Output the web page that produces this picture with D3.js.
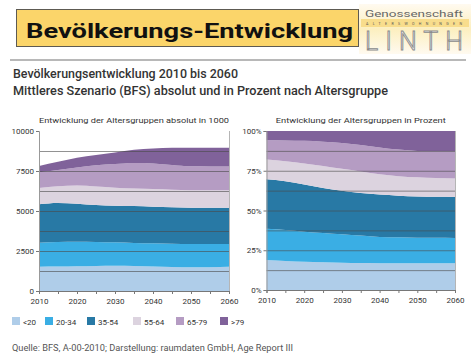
<!DOCTYPE html>
<html><head><meta charset="utf-8">
<script src="https://cdn.jsdelivr.net/npm/d3@7"></script>
<style>
body{margin:0;background:#fff}
svg{display:block}
text{font-family:Roboto,"DejaVu Sans",sans-serif}
</style></head>
<body>
<svg id="c" width="474" height="355"></svg>
<script>
// ---------- data ----------
const years = [2010,2015,2020,2025,2030,2035,2040,2045,2050,2055,2060];
const groups = ["<20","20-34","35-54","55-64","65-79",">79"];
const groupColors = ["#afcde9","#3aaee4","#2879a5","#dcd3df","#b59cc3","#80629a"];

// absolute, in 1000
const absU20  = [1520,1530,1550,1570,1580,1560,1530,1500,1480,1490,1520];
const abs2034 = [1500,1530,1530,1490,1460,1440,1450,1460,1460,1450,1420];
const abs3554 = [2400,2440,2380,2320,2290,2310,2290,2270,2270,2270,2270];
const abs5564 = [1010,1040,1130,1150,1130,1100,1100,1100,1090,1090,1090];
const abs6579 = [ 990,1030,1130,1330,1470,1590,1600,1550,1490,1480,1480];
const absO79  = [ 400, 510, 610, 640, 730, 830, 940,1070,1170,1180,1180];

// percent
const pctU20  = [18.9,18.3,17.8,17.5,17.2,17.0,16.9,16.8,16.8,16.8,16.8];
const pct2034 = [19.6,19.4,18.9,18.3,17.8,17.2,16.5,16.3,16.1,16.0,15.9];
const pct3554 = [31.1,30.7,29.6,28.3,27.4,26.8,26.6,26.2,25.9,25.8,25.8];
const pct5564 = [12.4,12.6,13.3,13.9,13.8,13.5,12.8,12.3,12.1,11.8,11.6];
const pct6579 = [12.2,13.1,14.2,15.3,16.3,16.7,16.9,16.7,16.6,16.9,17.1];
const pctO79  = [ 5.8, 5.9, 6.2, 6.7, 7.5, 8.8,10.3,11.7,12.5,12.7,12.8];

const absTicks = [0,2500,5000,7500,10000];
const absGrid  = [1250,2500,3750,5000,6250,7500,8750];
const pctTicks = [0,25,50,75,100];
const pctGrid  = [12.5,25,37.5,50,62.5,75,87.5];
const xTickYears = [2010,2015,2020,2025,2030,2035,2040,2045,2050,2055,2060];

// ---------- helpers ----------
const svg = d3.select("#c");
function rows(arrs){
  return years.map((yr,i)=>{
    const r={year:yr};
    groups.forEach((g,k)=>r[g]=arrs[k][i]);
    return r;
  });
}
const absRows = rows([absU20,abs2034,abs3554,abs5564,abs6579,absO79]);
const pctRows = rows([pctU20,pct2034,pct3554,pct5564,pct6579,pctO79]);

function panel(opt){
  const x = d3.scaleLinear().domain([2010,2060]).range([opt.x0,opt.x1]);
  const y = d3.scaleLinear().domain([0,opt.max]).range([opt.yb,opt.yt]);
  const g = svg.append("g");
  const stack = d3.stack().keys(groups)(opt.data);
  const area = d3.area().x(d=>x(d.data.year)).y0(d=>y(d[0])).y1(d=>y(d[1])).curve(d3.curveMonotoneX);
  g.selectAll("path.a").data(stack).join("path").attr("class","a")
    .attr("d",area).attr("fill",(d,i)=>groupColors[i]);
  // gridlines
  g.selectAll("line.gr").data(opt.grid).join("line").attr("class","gr")
    .attr("x1",opt.x0).attr("x2",opt.x1).attr("y1",d=>y(d)+0.5).attr("y2",d=>y(d)+0.5)
    .attr("stroke","#4a4a4a").attr("stroke-opacity",0.6).attr("stroke-width",1);
  // right border
  g.append("line").attr("x1",opt.x1+0.5).attr("x2",opt.x1+0.5).attr("y1",opt.yt).attr("y2",opt.yb)
    .attr("stroke","#b5b5b5");
  // left axis
  const ya = d3.axisLeft(y).tickValues(opt.ticks).tickFormat(opt.fmt).tickSize(3).tickPadding(2);
  const yg = g.append("g").attr("transform",`translate(${opt.x0},0)`).call(ya);
  yg.select(".domain").attr("stroke","#999");
  yg.selectAll(".tick line").attr("stroke","#777");
  yg.selectAll("text").attr("font-size",8).attr("fill","#333");
  // bottom axis
  const xa = d3.axisBottom(x).tickValues(xTickYears).tickFormat(d=>d%10===0?d:"").tickSize(3).tickPadding(4);
  const xg = g.append("g").attr("transform",`translate(0,${opt.yb})`).call(xa);
  xg.select(".domain").attr("stroke","#777");
  xg.selectAll(".tick line").attr("stroke","#777");
  xg.selectAll("text").attr("font-size",8).attr("fill","#333");
  // title
  g.append("text").attr("x",(opt.x0+opt.x1)/2).attr("y",123).attr("text-anchor","middle")
    .attr("font-size",8).attr("fill","#333").attr("textLength",opt.tlen).attr("lengthAdjust","spacingAndGlyphs")
    .text(opt.title);
}

// ---------- header ----------
svg.append("rect").attr("x",16.5).attr("y",9.5).attr("width",342).attr("height",37)
  .attr("fill","#fbd56a").attr("stroke","#5d5a52").attr("stroke-width",1);
svg.append("text").attr("x",26).attr("y",38).attr("font-family","'Liberation Sans',Arial,sans-serif")
  .attr("font-weight","bold").attr("font-size",20).attr("fill","#111")
  .attr("textLength",327).attr("lengthAdjust","spacingAndGlyphs").text("Bevölkerungs-Entwicklung");

// logo
const lg = svg.append("defs").append("linearGradient").attr("id","lg").attr("x1",0).attr("x2",0).attr("y1",0).attr("y2",1);
lg.append("stop").attr("offset","0").attr("stop-color","#fffaf0");
lg.append("stop").attr("offset","0.5").attr("stop-color","#fcefbf");
lg.append("stop").attr("offset","1").attr("stop-color","#fffaf0");
svg.append("rect").attr("x",359).attr("y",4).attr("width",112).attr("height",50).attr("fill","url(#lg)");
svg.append("rect").attr("x",361).attr("y",19).attr("width",108).attr("height",8).attr("fill","#f8dd8c");
svg.append("text").attr("x",365).attr("y",17).attr("font-size",9.5).attr("fill","#666")
  .attr("textLength",98).attr("lengthAdjust","spacingAndGlyphs").text("Genossenschaft");
svg.append("text").attr("x",366).attr("y",24.5).attr("font-size",3.6).attr("fill","#555")
  .attr("textLength",96).attr("lengthAdjust","spacing").text("ALTERSWOHNUNGEN");
svg.append("text").attr("x",365).attr("y",50).attr("font-size",25).attr("font-weight",300)
  .attr("fill","#fbfbfb").attr("stroke","#8a8a8a").attr("stroke-width",0.9)
  .attr("textLength",98).attr("lengthAdjust","spacing").text("LINTH");

// separator
svg.append("line").attr("x1",10).attr("x2",466).attr("y1",60).attr("y2",60).attr("stroke","#a0a0a0").attr("stroke-width",1.5);

// subtitles
svg.append("text").attr("x",13).attr("y",78).attr("font-size",12).attr("font-weight",500).attr("fill","#333")
  .attr("textLength",225).attr("lengthAdjust","spacingAndGlyphs").text("Bevölkerungsentwicklung 2010 bis 2060");
svg.append("text").attr("x",13).attr("y",95).attr("font-size",12).attr("font-weight",500).attr("fill","#333")
  .attr("textLength",375).attr("lengthAdjust","spacingAndGlyphs").text("Mittleres Szenario (BFS) absolut und in Prozent nach Altersgruppe");

// ---------- charts ----------
panel({data:absRows,max:10000,x0:39,x1:229,yt:131,yb:291,ticks:absTicks,grid:absGrid,
  fmt:d=>d3.format("d")(d),title:"Entwicklung der Altersgruppen absolut in 1000",tlen:190});
panel({data:pctRows,max:100,x0:266.5,x1:455,yt:131,yb:290,ticks:pctTicks,grid:pctGrid,
  fmt:d=>d+"%",title:"Entwicklung der Altersgruppen in Prozent",tlen:170});

// ---------- legend ----------
const legX = [12,45,87,133,176,220];
const lgd = svg.append("g");
groups.forEach((gname,i)=>{
  lgd.append("rect").attr("x",legX[i]).attr("y",317).attr("width",8).attr("height",8).attr("fill",groupColors[i]);
  lgd.append("text").attr("x",legX[i]+11).attr("y",324.5).attr("font-size",8).attr("fill","#333").text(gname);
});

// source
svg.append("text").attr("x",12).attr("y",351).attr("font-size",8.5).attr("fill","#555")
  .attr("textLength",281).attr("lengthAdjust","spacingAndGlyphs")
  .text("Quelle: BFS, A-00-2010; Darstellung: raumdaten GmbH, Age Report III");
</script>
</body></html>
